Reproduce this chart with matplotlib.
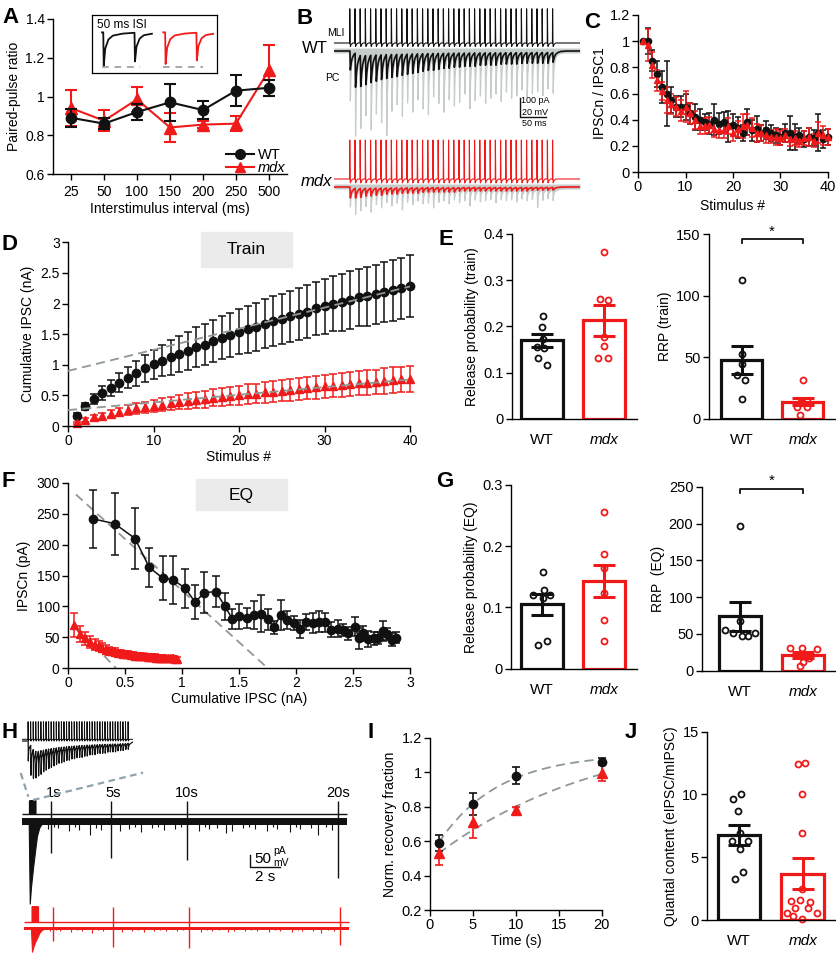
#!/usr/bin/env python3
"""Short-term plasticity at MLI-PC synapses, WT vs mdx (panels A-J)."""
import numpy as np
import matplotlib
matplotlib.use("Agg")
import matplotlib.pyplot as plt
from matplotlib.lines import Line2D
from matplotlib.patches import Rectangle
from matplotlib.ticker import FormatStrFormatter

plt.rcParams["font.family"] = ["Liberation Sans", "DejaVu Sans"]
plt.rcParams["font.size"] = 10

W, H = 837, 956
BLK = "#111111"
RED = "#f01a1a"
FIT = "#8e9897"
TRACE_GRAY = "#c5cdcb"
BOX = "#ebebeb"
ZOOM_LINE = "#8fa3ad"

# ---------------- A: paired-pulse ratio ----------------
ISI_LABELS = ["25", "50", "100", "150", "200", "250", "500"]
PPR_WT = [0.89, 0.86, 0.92, 0.97, 0.93, 1.03, 1.045]
PPR_WT_ERR = [0.045, 0.03, 0.043, 0.095, 0.045, 0.08, 0.04]
PPR_MDX = [0.94, 0.875, 0.985, 0.84, 0.855, 0.86, 1.135]
PPR_MDX_ERR = [0.093, 0.055, 0.065, 0.073, 0.02, 0.04, 0.13]
# inset: 50 ms ISI pairs, normalised amplitudes
INSET_STIM_WT = [18, 68]
INSET_AMP_WT = [1.0, 0.86]
INSET_STIM_MDX = [117, 167]
INSET_AMP_MDX = [0.95, 0.83]

# ---------------- B: example 100 Hz trains ----------------
B_STIM_MS = 10.0 * np.arange(40)
MLI_SPIKE_MV_WT = 36
MLI_SPIKE_MV_MDX = 41
PC_DEPTH_WT = [100, 180, 165, 155, 146, 140, 132, 127, 122, 118, 113, 108, 104, 99, 94, 90,
               90, 85, 80, 80, 75, 75, 71, 71, 71, 66, 66, 66, 66, 61, 61, 61, 61, 57, 57, 57,
               57, 57, 57, 52]
GRAY_PEAK_WT = [263, 431, 379, 316, 395, 305, 358, 421, 289, 263, 326, 252, 305, 237, 289, 316,
                221, 263, 305, 237, 274, 252, 210, 289, 242, 221, 263, 231, 210, 252, 200, 237,
                221, 189, 231, 210, 200, 221, 184, 210]
GRAY_BAND_WT = [132, 237, 210, 200, 189, 179, 174, 168, 158, 147, 137, 132, 126, 121, 116, 110,
                110, 105, 100, 100, 95, 95, 89, 89, 84, 84, 84, 79, 79, 79, 74, 74, 74, 74, 68,
                68, 68, 68, 68, 63]
PC_DEPTH_MDX = [57, 52, 48, 42, 42, 38, 38, 33, 33, 33, 29, 29, 29, 29, 24, 24, 24, 24, 24, 24,
                24, 19, 19, 19, 19, 19, 19, 19, 19, 19, 19, 19, 19, 19, 19, 15, 15, 15, 15, 15]
GRAY_PEAK_MDX = [105, 137, 116, 95, 126, 84, 105, 74, 95, 79, 116, 74, 89, 68, 84, 79, 105, 74,
                 68, 84, 63, 79, 68, 95, 63, 74, 68, 63, 79, 63, 68, 63, 74, 58, 68, 63, 105, 63,
                 58, 68]
GRAY_BAND_MDX = [74, 74, 68, 63, 63, 58, 58, 53, 53, 53, 47, 47, 47, 47, 42, 42, 42, 42, 42, 42,
                 42, 37, 37, 37, 37, 37, 37, 37, 37, 37, 37, 37, 37, 37, 37, 32, 32, 32, 32, 32]

# ---------------- C: normalised IPSC amplitude ----------------
STIM = np.arange(1, 41)
C_WT = [1.0, 1.0, 0.85, 0.75, 0.65, 0.6, 0.55, 0.5, 0.5, 0.5, 0.45, 0.42, 0.4, 0.38, 0.37, 0.4,
        0.37, 0.38, 0.35, 0.36, 0.34, 0.3, 0.38, 0.32, 0.33, 0.3, 0.32, 0.3, 0.28, 0.27, 0.3, 0.3,
        0.27, 0.28, 0.25, 0.27, 0.26, 0.3, 0.25, 0.27]
C_WT_ERR = [0.0, 0.1, 0.08, 0.1, 0.12, 0.25, 0.1, 0.08, 0.08, 0.1, 0.08, 0.1, 0.08, 0.06, 0.08,
            0.12, 0.08, 0.08, 0.12, 0.08, 0.08, 0.06, 0.1, 0.08, 0.1, 0.06, 0.07, 0.06, 0.06, 0.06,
            0.07, 0.13, 0.1, 0.06, 0.06, 0.07, 0.06, 0.14, 0.07, 0.06]
C_MDX = [1.0, 0.97, 0.82, 0.7, 0.62, 0.55, 0.52, 0.5, 0.47, 0.5, 0.45, 0.4, 0.35, 0.35, 0.36,
         0.33, 0.32, 0.32, 0.35, 0.3, 0.33, 0.35, 0.36, 0.34, 0.3, 0.3, 0.28, 0.27, 0.27, 0.26,
         0.28, 0.25, 0.26, 0.24, 0.26, 0.27, 0.24, 0.3, 0.28, 0.27]
C_MDX_ERR = [0.0, 0.12, 0.1, 0.08, 0.07, 0.1, 0.08, 0.07, 0.08, 0.12, 0.08, 0.07, 0.06, 0.06,
             0.06, 0.06, 0.06, 0.06, 0.06, 0.06, 0.06, 0.09, 0.08, 0.07, 0.07, 0.06, 0.06, 0.05,
             0.06, 0.05, 0.05, 0.05, 0.05, 0.05, 0.05, 0.07, 0.05, 0.08, 0.07, 0.06]

# ---------------- D: cumulative IPSC (train method) ----------------
D_WT = [0.17, 0.32, 0.44, 0.54, 0.62, 0.71, 0.79, 0.86, 0.94, 1.01, 1.07, 1.12, 1.18, 1.23, 1.29,
        1.33, 1.39, 1.44, 1.49, 1.54, 1.58, 1.62, 1.67, 1.71, 1.75, 1.79, 1.83, 1.87, 1.92, 1.96,
        2.0, 2.02, 2.06, 2.1, 2.12, 2.15, 2.19, 2.22, 2.25, 2.29]
D_WT_ERR = [0.04, 0.06, 0.08, 0.11, 0.13, 0.15, 0.17, 0.2, 0.22, 0.24, 0.26, 0.28, 0.29, 0.31,
            0.32, 0.33, 0.34, 0.35, 0.36, 0.37, 0.38, 0.39, 0.4, 0.41, 0.41, 0.42, 0.43, 0.43,
            0.44, 0.45, 0.45, 0.46, 0.47, 0.47, 0.48, 0.48, 0.49, 0.5, 0.5, 0.51]
D_MDX = [0.05, 0.1, 0.14, 0.17, 0.2, 0.23, 0.26, 0.29, 0.31, 0.33, 0.35, 0.37, 0.39, 0.41, 0.42,
         0.44, 0.46, 0.47, 0.49, 0.5, 0.52, 0.53, 0.55, 0.56, 0.58, 0.59, 0.61, 0.62, 0.63, 0.65,
         0.66, 0.67, 0.69, 0.7, 0.71, 0.72, 0.74, 0.75, 0.76, 0.77]
D_MDX_ERR = [0.02, 0.03, 0.04, 0.05, 0.06, 0.07, 0.08, 0.09, 0.09, 0.1, 0.11, 0.11, 0.12, 0.13,
             0.13, 0.14, 0.14, 0.15, 0.15, 0.16, 0.16, 0.16, 0.17, 0.17, 0.17, 0.18, 0.18, 0.18,
             0.19, 0.19, 0.19, 0.19, 0.2, 0.2, 0.2, 0.2, 0.21, 0.21, 0.21, 0.21]
D_FIT_WT = (0.9, 0.0345)    # intercept, slope of late-phase fit
D_FIT_MDX = (0.26, 0.0125)

# ---------------- F: EQ (Elmqvist-Quastel) plot ----------------
F_WT_X = [0.217, 0.41, 0.588, 0.713, 0.83, 0.924, 1.03, 1.114, 1.196, 1.295, 1.377, 1.44, 1.5,
          1.573, 1.63, 1.69, 1.75, 1.807, 1.865, 1.92, 1.98, 2.035, 2.09, 2.15, 2.2, 2.25, 2.31,
          2.37, 2.415, 2.46, 2.52, 2.55, 2.59, 2.63, 2.68, 2.72, 2.76, 2.8, 2.84, 2.88]
F_WT_Y = [242, 234, 210, 163, 146, 143, 129, 107, 122, 124, 100, 80, 84, 81, 86, 88, 79, 66, 86,
          78, 73, 63, 74, 73, 75, 74, 62, 64, 62, 56, 67, 48, 56, 47, 48, 49, 60, 55, 46, 49]
F_WT_ERR = [47, 50, 50, 31, 36, 39, 32, 27, 33, 25, 22, 16, 20, 16, 22, 30, 17, 11, 24, 15, 12,
            15, 13, 16, 17, 16, 12, 14, 10, 11, 15, 17, 12, 13, 10, 10, 16, 10, 11, 9]
F_MDX_X = [0.05, 0.105, 0.153, 0.195, 0.233, 0.268, 0.301, 0.331, 0.359, 0.386, 0.412, 0.437,
           0.461, 0.484, 0.506, 0.528, 0.549, 0.570, 0.590, 0.610, 0.630, 0.649, 0.668, 0.687,
           0.705, 0.723, 0.741, 0.759, 0.776, 0.793, 0.810, 0.827, 0.844, 0.860, 0.876, 0.892,
           0.908, 0.924, 0.939, 0.954]
F_MDX_Y = [70, 55, 48, 42, 38, 35, 33, 30, 28, 27, 26, 25, 24, 23, 22, 22, 21, 21, 20, 20, 20,
           19, 19, 19, 18, 18, 18, 18, 17, 17, 17, 17, 17, 16, 16, 16, 16, 16, 15, 15]
F_MDX_ERR = [20, 13, 11, 10, 9, 8, 7, 7, 6, 6, 6, 5, 5, 5, 5, 5, 5, 5, 4, 4, 4, 4, 4, 4, 4, 4, 4,
             4, 4, 4, 4, 4, 3, 3, 3, 3, 3, 3, 3, 3]
F_FIT_WT = (293, -167.4, 0.07, 1.75)   # intercept, slope, x range
F_FIT_MDX = (79.5, -189.0, 0.05, 0.42)

# ---------------- E / G / J: per-cell bar plots ----------------
PR_TRAIN = [[0.223, 0.199, 0.172, 0.155, 0.153, 0.131, 0.117],
            [0.36, 0.26, 0.257, 0.178, 0.158, 0.131, 0.131]]
PR_TRAIN_OFF = [[0.01, 0.0, 0.01, -0.08, 0.03, -0.06, 0.08], [0.0, -0.06, 0.07, 0.0, 0.0, -0.09, 0.07]]
PR_TRAIN_MEAN = [0.17, 0.213]
PR_TRAIN_SEM = [0.014, 0.033]

RRP_TRAIN = [[113, 53, 45, 36, 32, 16], [31.6, 15, 13, 10, 10, 3]]
RRP_TRAIN_OFF = [[0.0, 0.0, 0.0, -0.08, 0.06, 0.0], [0.0, 0.06, -0.05, -0.1, 0.07, -0.05]]
RRP_TRAIN_MEAN = [48, 14]
RRP_TRAIN_SEM = [11.5, 3]

PR_EQ = [[0.158, 0.128, 0.121, 0.121, 0.115, 0.046, 0.038],
         [0.256, 0.188, 0.164, 0.123, 0.079, 0.046]]
PR_EQ_OFF = [[0.01, 0.03, -0.14, 0.13, 0.01, 0.08, -0.06], [0.0, 0.0, 0.0, 0.0, 0.0, 0.0]]
PR_EQ_MEAN = [0.105, 0.143]
PR_EQ_SEM = [0.017, 0.026]

RRP_EQ = [[197, 68, 55, 52, 51, 47, 47], [30.5, 31.4, 29, 22, 18, 12, 6]]
RRP_EQ_OFF = [[0.0, 0.0, -0.245, 0.23, -0.11, 0.13, 0.02], [-0.21, -0.02, 0.22, -0.1, 0.1, 0.0, -0.05]]
RRP_EQ_MEAN = [74, 21]
RRP_EQ_SEM = [20, 4]

QC = [[10.05, 9.6, 8.67, 6.93, 6.27, 6.27, 5.65, 3.79, 3.25],
      [12.45, 12.5, 10.0, 6.93, 2.5, 1.55, 1.6, 1.47, 0.93, 0.93, 0.53, 0.53, 0.32, 0.05]]
QC_OFF = [[0.04, -0.09, -0.01, 0.02, -0.115, 0.146, 0.02, 0.07, -0.06],
          [-0.07, 0.04, -0.02, -0.02, -0.02, -0.18, -0.05, 0.11, -0.125, 0.08, -0.255, 0.22, -0.15, -0.02]]
QC_MEAN = [6.75, 3.7]
QC_SEM = [0.8, 1.2]

# ---------------- H / I: recovery ----------------
H_TEST_S = [1, 5, 10, 20]
H_TEST_WT_PA = [135, 154, 164, 242]
H_TEST_MDX_PA = [55, 78, 85, 72]
H_TRAIN_T = [-0.45, -0.38, -0.3, -0.15, 0.0, 0.1, 0.25, 0.5]
H_TRAIN_WT_PA = [0, 350, 280, 190, 110, 60, 25, 0]
H_TRAIN_MDX_PA = [0, 100, 80, 55, 35, 20, 8, 0]
H_MINI_S = [0.8, 1.2, 1.5, 2.2, 2.6, 2.9, 3.6, 4.0, 4.3, 5.6, 6.2, 6.6, 7.0, 7.7, 8.1, 8.5, 9.2,
            9.6, 10.8, 11.2, 11.5, 12.0, 12.6, 13.0, 13.7, 14.1, 14.5, 15.3, 15.7, 16.0, 16.8,
            17.2, 17.5, 18.2, 18.7, 19.2, 19.6]
H_MINI_WT_PA = [30, 22, 25, 40, 24, 35, 57, 26, 35, 40, 30, 22, 45, 25, 22, 35, 30, 24, 40, 22,
                30, 26, 50, 40, 25, 22, 30, 40, 24, 30, 45, 22, 30, 25, 57, 24, 35]
H_MINI_MDX_PA = [12, 8, 10, 15, 8, 12, 18, 8, 10, 14, 10, 8, 16, 10, 8, 12, 10, 8, 14, 8, 10, 8,
                 16, 12, 10, 8, 10, 14, 8, 10, 15, 8, 10, 10, 18, 8, 12]
H_INSET_DEPTH = [100, 150, 145, 135, 125, 120, 110, 105, 100, 95, 90, 85, 80, 80, 75, 70, 70, 65,
                 65, 60, 60, 60, 55, 55, 50, 50, 50, 45, 45, 45, 45, 40, 40, 40, 40, 35, 35, 35,
                 30, 30]

REC_T = [1, 5, 10, 20]
REC_WT = [0.59, 0.817, 0.98, 1.06]
REC_WT_ERR = [0.048, 0.063, 0.048, 0.02]
REC_MDX = [0.533, 0.71, 0.779, 0.996]
REC_MDX_ERR = [0.07, 0.095, 0.02, 0.05]
REC_FIT_WT = (1.11, 0.6, 7.0)     # A - B * exp(-t / tau)
REC_FIT_MDX = (1.28, 0.79, 20.0)

# trace kernels (time ms, fraction of peak)
PSC_T = [0, 0.7, 1.5, 3, 5, 8, 12, 20]
PSC_F = [0, 1, 0.55, 0.3, 0.18, 0.1, 0.05, 0]
PC_PSC_T = [0, 0.8, 2, 4, 7, 10, 15, 25]
PC_PSC_F = [0, 1, 0.7, 0.4, 0.22, 0.12, 0.05, 0]
SLOW_PSC_T = [0, 0.7, 1.5, 3, 6, 10, 20, 40]
SLOW_PSC_F = [0, 1, 0.6, 0.4, 0.3, 0.22, 0.1, 0]
SPK_T = [0, 0.3, 0.8, 1.5, 3, 6]
SPK_F = [0, 1, 0.05, -0.1, -0.04, 0]
PAIR_T = [0, 0.8, 3, 8, 15, 30, 60]
PAIR_F = [0, 1, 0.5, 0.22, 0.1, 0.04, 0]


def px_axes(fig, x0, y0, x1, y1):
    return fig.add_axes([x0 / W, 1 - y1 / H, (x1 - x0) / W, (y1 - y0) / H])


def ftext(fig, x, y, s, **kw):
    fig.text(x / W, 1 - y / H, s, **kw)


def fline(fig, xs, ys, **kw):
    fig.add_artist(Line2D([x / W for x in xs], [1 - y / H for y in ys],
                          transform=fig.transFigure, **kw))


def summed(t, onsets, amps, kt, kf):
    y = np.zeros_like(t)
    for t0, a in zip(onsets, amps):
        y += a * np.interp(t - t0, kt, kf, left=0, right=0)
    return y


def style(ax, size=10):
    for s in ("top", "right"):
        ax.spines[s].set_visible(False)
    for s in ("left", "bottom"):
        ax.spines[s].set_linewidth(1.0)
    ax.tick_params(direction="out", length=4, width=1, labelsize=size, pad=2)
    ax.yaxis.set_major_formatter(FormatStrFormatter("%g"))


def noclip(container):
    for art in container.get_children():
        art.set_clip_on(False)


def bar_panel(ax, means, sems, pts, offs, xlim, ylim, yticks, ylabel):
    cols = (BLK, RED)
    ax.bar([0, 1], means, width=0.67, color="white", edgecolor=cols, linewidth=2.3, zorder=1)
    for i in range(2):
        ax.plot(i + np.asarray(offs[i]), pts[i], "o", mfc="none", mec=cols[i], ms=4.3, mew=1.3,
                zorder=2, clip_on=False)
        ax.errorbar(i, means[i], yerr=sems[i], color=cols[i], capsize=8, elinewidth=2.2,
                    capthick=2.2, zorder=3)
    style(ax, 10.5)
    ax.set_xlim(*xlim)
    ax.set_ylim(*ylim)
    ax.set_yticks(yticks)
    ax.set_xticks([0, 1])
    ax.set_xticklabels(["WT", "mdx"], fontsize=11)
    ax.get_xticklabels()[1].set_fontstyle("italic")
    ax.tick_params(axis="x", length=0, pad=10)
    ax.set_ylabel(ylabel, fontsize=10, labelpad=3)


def sig_bracket(ax, y, drop, star_y):
    ax.plot([0, 0, 1, 1], [y - drop, y, y, y - drop], color=BLK, lw=1.3, clip_on=False)
    ax.text(0.5, star_y, "*", ha="center", va="center", fontsize=11)


def main():
    fig = plt.figure(figsize=(W / 100, H / 100), dpi=100)

    # ---- panel letters
    for lab, x, y in (("A", 2, 23), ("B", 297, 24), ("C", 584, 28), ("D", 2, 250), ("E", 438, 245),
                      ("F", 2, 487), ("G", 436, 487), ("H", 2, 738), ("I", 368, 738), ("J", 625, 738)):
        ftext(fig, x, y, lab, fontsize=16, fontweight="bold", va="baseline", ha="left")

    # ---- A
    ax = px_axes(fig, 53, 19, 287, 174)
    xa = np.arange(len(ISI_LABELS))
    ax.errorbar(xa, PPR_WT, yerr=PPR_WT_ERR, fmt="-o", color=BLK, ms=7.5, lw=1.5,
                elinewidth=1.5, capsize=4, capthick=1.5, zorder=3)
    ax.errorbar(xa, PPR_MDX, yerr=PPR_MDX_ERR, fmt="-^", color=RED, ms=8, lw=1.5,
                elinewidth=1.5, capsize=4, capthick=1.5, zorder=2)
    style(ax)
    ax.tick_params(axis="x", pad=4)
    ax.set_xlim(-0.55, 6.55)
    ax.set_ylim(0.6, 1.4)
    ax.set_yticks([0.6, 0.8, 1.0, 1.2, 1.4])
    ax.set_xticks(xa)
    ax.set_xticklabels(ISI_LABELS)
    ax.set_ylabel("Paired-pulse ratio", labelpad=3)
    ax.set_xlabel("Interstimulus interval (ms)", labelpad=2)
    handles = [Line2D([], [], color=BLK, marker="o", ms=7, lw=1.5),
               Line2D([], [], color=RED, marker="^", ms=7.5, lw=1.5)]
    leg = ax.legend(handles, ["WT", "mdx"], loc="lower right", bbox_to_anchor=(1.03, -0.06),
                    frameon=False, handlelength=1.9, handletextpad=0.25, labelspacing=-0.1,
                    handleheight=0.6, fontsize=10.5, borderaxespad=0.2)
    leg.get_texts()[1].set_fontstyle("italic")

    ins = px_axes(fig, 92, 15, 217, 73)
    ins.set_xticks([])
    ins.set_yticks([])
    for s in ins.spines.values():
        s.set_linewidth(0.9)
    ins.set_xlim(0, 200)
    ins.set_ylim(-1.22, 0.52)
    for stim, amp, col, (t0, t1), (d0, d1) in (
            (INSET_STIM_WT, INSET_AMP_WT, BLK, (16, 96), (16, 77)),
            (INSET_STIM_MDX, INSET_AMP_MDX, RED, (114, 194), (114, 178))):
        tt = np.arange(t0, t1, 0.1)
        ins.plot(tt, -summed(tt, stim, amp, PAIR_T, PAIR_F), color=col, lw=1.3)
        ins.plot([d0, d1], [-1.03, -1.03], color="#999999", lw=1.2, ls=(0, (4, 3.5)))
    ins.text(0.04, 0.83, "50 ms ISI", transform=ins.transAxes, fontsize=8.5, va="center")

    # ---- B
    axb = px_axes(fig, 334, 0, 580, 225)
    axb.axis("off")
    axb.set_xlim(-30, 443)
    axb.set_ylim(-225, 0)
    pa_px = 100 / 19
    mv_px = 20 / 19
    tb = np.arange(-30, 443, 0.1)
    for base_mli, base_pc, spk, depth, gpeak, gband, col in (
            (43, 51, MLI_SPIKE_MV_WT, PC_DEPTH_WT, GRAY_PEAK_WT, GRAY_BAND_WT, BLK),
            (179, 187, MLI_SPIKE_MV_MDX, PC_DEPTH_MDX, GRAY_PEAK_MDX, GRAY_BAND_MDX, RED)):
        band = summed(tb, B_STIM_MS + 0.5, np.asarray(gband) / pa_px, PC_PSC_T, PC_PSC_F)
        axb.fill_between(tb, -base_pc + 3, -base_pc - 2 - band, color=TRACE_GRAY, lw=0)
        peaks = summed(tb, B_STIM_MS + 0.8, np.asarray(gpeak) / pa_px, PSC_T, PSC_F)
        axb.plot(tb, -base_pc - peaks, color=TRACE_GRAY, lw=0.9)
        pc = summed(tb, B_STIM_MS + 0.6, np.asarray(depth) / pa_px, PC_PSC_T, PC_PSC_F)
        axb.plot(tb, -base_pc - pc, color=col, lw=1.2)
        mli = summed(tb, B_STIM_MS, np.full(40, spk / mv_px), SPK_T, SPK_F)
        axb.plot(tb, -base_mli + mli, color=col, lw=0.8)
    ftext(fig, 327, 33, "MLI", fontsize=7.5, va="center")
    ftext(fig, 325, 78, "PC", fontsize=7.5, va="center")
    ftext(fig, 315, 48.5, "WT", fontsize=12, va="center", ha="center")
    ftext(fig, 316, 182, "mdx", fontsize=12, va="center", ha="center", style="italic")
    fline(fig, [520, 520, 545.5], [98, 117, 117], color=BLK, lw=1.0)
    ftext(fig, 521.5, 100.5, "100 pA", fontsize=6.5, va="center")
    ftext(fig, 522, 112.5, "20 mV", fontsize=6.5, va="center")
    ftext(fig, 522, 123.5, "50 ms", fontsize=6.5, va="center")

    # ---- C
    ax = px_axes(fig, 638, 15, 828, 172)
    noclip(ax.errorbar(STIM, C_WT, yerr=C_WT_ERR, fmt="o", color=BLK, ms=4.5, elinewidth=1.1,
                       capsize=2.2, capthick=1.1))
    noclip(ax.errorbar(STIM, C_MDX, yerr=C_MDX_ERR, fmt="^", color=RED, ms=5, elinewidth=1.1,
                       capsize=2.2, capthick=1.1))
    style(ax, 10.5)
    ax.set_xlim(0, 40)
    ax.set_ylim(0, 1.2)
    ax.set_xticks([0, 10, 20, 30, 40])
    ax.set_yticks(np.arange(0, 1.21, 0.2))
    ax.set_ylabel("IPSCn / IPSC1", labelpad=2)
    ax.set_xlabel("Stimulus #", labelpad=3)

    # ---- D
    ax = px_axes(fig, 68, 242.4, 410, 426)
    noclip(ax.errorbar(STIM, D_WT, yerr=D_WT_ERR, fmt="o", color=BLK, ms=6, elinewidth=1.1,
                       capsize=2.8, capthick=1.1))
    noclip(ax.errorbar(STIM, D_MDX, yerr=D_MDX_ERR, fmt="^", color=RED, ms=6, elinewidth=1.1,
                       capsize=2.8, capthick=1.1))
    xf = np.array([0, 40])
    for b0, b1 in (D_FIT_WT, D_FIT_MDX):
        ax.plot(xf, b0 + b1 * xf, color=FIT, lw=1.3, ls=(0, (5, 3)), zorder=4)
    style(ax, 10)
    ax.set_xlim(0, 40)
    ax.set_ylim(0, 3)
    ax.set_xticks([0, 10, 20, 30, 40])
    ax.set_yticks(np.arange(0, 3.01, 0.5))
    ax.set_ylabel("Cumulative IPSC (nA)", labelpad=4)
    ax.set_xlabel("Stimulus #", labelpad=1)
    fig.patches.append(Rectangle((201 / W, 1 - 267 / H), 91 / W, 35 / H, transform=fig.transFigure,
                                 color=BOX, zorder=0))
    ftext(fig, 246.5, 249.5, "Train", fontsize=12.5, ha="center", va="center")

    # ---- F
    ax = px_axes(fig, 68, 483, 410, 668)
    for b0, b1, x0, x1 in (F_FIT_WT, F_FIT_MDX):
        xs = np.array([x0, x1])
        ax.plot(xs, b0 + b1 * xs, color=FIT, lw=1.3, ls=(0, (5, 3)), zorder=1)
    noclip(ax.errorbar(F_WT_X, F_WT_Y, yerr=F_WT_ERR, fmt="-o", color=BLK, ms=6, lw=1.1,
                       elinewidth=1.1, capsize=2.8, capthick=1.1))
    noclip(ax.errorbar(F_MDX_X, F_MDX_Y, yerr=F_MDX_ERR, fmt="-^", color=RED, ms=5.5, lw=1.1,
                       elinewidth=1.1, capsize=2.8, capthick=1.1))
    style(ax, 10)
    ax.set_xlim(0, 3)
    ax.set_ylim(0, 300)
    ax.set_xticks(np.arange(0, 3.01, 0.5))
    ax.set_yticks(np.arange(0, 301, 50))
    ax.xaxis.set_major_formatter(FormatStrFormatter("%g"))
    ax.set_ylabel("IPSCn (pA)", labelpad=4)
    ax.set_xlabel("Cumulative IPSC (nA)", labelpad=1)
    fig.patches.append(Rectangle((196 / W, 1 - 510 / H), 91 / W, 31 / H, transform=fig.transFigure,
                                 color=BOX, zorder=0))
    ftext(fig, 241.5, 495, "EQ", fontsize=12.5, ha="center", va="center")

    # ---- E
    ax = px_axes(fig, 512, 233.8, 637, 419)
    bar_panel(ax, PR_TRAIN_MEAN, PR_TRAIN_SEM, PR_TRAIN, PR_TRAIN_OFF, (-0.484, 1.532), (0, 0.4),
              [0, 0.1, 0.2, 0.3, 0.4], "Release probability (train)")
    ax = px_axes(fig, 709, 234.3, 836, 419)
    bar_panel(ax, RRP_TRAIN_MEAN, RRP_TRAIN_SEM, RRP_TRAIN, RRP_TRAIN_OFF, (-0.53, 1.54), (0, 150),
              [0, 50, 100, 150], "RRP (train)")
    sig_bracket(ax, 146, 3, 152)

    # ---- G
    ax = px_axes(fig, 510.7, 485, 637, 668.7)
    bar_panel(ax, PR_EQ_MEAN, PR_EQ_SEM, PR_EQ, PR_EQ_OFF, (-0.505, 1.53), (0, 0.3),
              [0, 0.1, 0.2, 0.3], "Release probability (EQ)")
    ax = px_axes(fig, 701.7, 486.7, 836, 670.8)
    bar_panel(ax, RRP_EQ_MEAN, RRP_EQ_SEM, RRP_EQ, RRP_EQ_OFF, (-0.616, 1.53), (0, 250),
              [0, 50, 100, 150, 200, 250], "RRP  (EQ)")
    sig_bracket(ax, 247, 6, 258)

    # ---- J
    ax = px_axes(fig, 707, 731.7, 836, 920)
    bar_panel(ax, QC_MEAN, QC_SEM, QC, QC_OFF, (-0.5, 1.52), (0, 15), [0, 5, 10, 15],
              "Quantal content (eIPSC/mIPSC)")

    # ---- I
    ax = px_axes(fig, 430, 737.7, 601.7, 910)
    tf = np.linspace(1, 20, 100)
    for a, b, tau in (REC_FIT_WT, REC_FIT_MDX):
        ax.plot(tf, a - b * np.exp(-tf / tau), color=FIT, lw=1.3, ls=(0, (5, 3)), zorder=1)
    noclip(ax.errorbar(REC_T, REC_WT, yerr=REC_WT_ERR, fmt="o", color=BLK, ms=6, elinewidth=1.2,
                       capsize=3, capthick=1.2))
    noclip(ax.errorbar(REC_T, REC_MDX, yerr=REC_MDX_ERR, fmt="^", color=RED, ms=6.5,
                       elinewidth=1.2, capsize=3, capthick=1.2))
    style(ax, 10.5)
    ax.set_xlim(0, 20)
    ax.set_ylim(0.2, 1.2)
    ax.set_xticks([0, 5, 10, 15, 20])
    ax.set_yticks([0.2, 0.4, 0.6, 0.8, 1.0, 1.2])
    ax.set_ylabel("Norm. recovery fraction", labelpad=3)
    ax.set_xlabel("Time (s)", labelpad=1)

    # ---- H inset (train)
    axi = px_axes(fig, 22, 715, 133, 790)
    axi.axis("off")
    axi.set_xlim(-23.4, 409.5)
    axi.set_ylim(-75, 0)
    ti = np.arange(-23, 409, 0.1)
    axi.plot(ti, -24.3 + summed(ti, B_STIM_MS, np.full(40, 17.6), SPK_T, SPK_F), color=BLK, lw=0.7)
    axi.plot(ti, -26 - summed(ti, B_STIM_MS + 0.6, np.asarray(H_INSET_DEPTH) / 5, SLOW_PSC_T,
                              SLOW_PSC_F), color=BLK, lw=0.9)
    fline(fig, [20.7, 28.3], [773, 796.7], color=ZOOM_LINE, lw=1.6, ls=(0, (3, 2)))
    fline(fig, [33, 143], [800, 772.7], color=ZOOM_LINE, lw=1.6, ls=(0, (3, 2)))

    # ---- H main trace
    axh = px_axes(fig, 20, 790, 350, 956)
    axh.axis("off")
    axh.set_xlim(-1.025, 20.8)
    axh.set_ylim(-166, 0)
    k = 50 / 11.7
    train_s = B_STIM_MS / 1000 - 0.4
    for shift, mli, pc, spk, test, trn, minis, noise, col in (
            (0.0, -24.3, -31.7, 62, H_TEST_WT_PA, H_TRAIN_WT_PA, H_MINI_WT_PA, 16, BLK),
            (0.15, -132.3, -138.3, 70, H_TEST_MDX_PA, H_TRAIN_MDX_PA, H_MINI_MDX_PA, 7, RED)):
        axh.hlines(mli, -0.9 + shift, 20.6 + shift, color=col, lw=1.0)
        axh.vlines(train_s + shift, mli, mli + spk / k, color=col, lw=0.9)
        axh.fill_between([-0.9 + shift, 20.6 + shift], pc - noise / k, pc + noise / k, color=col, lw=0)
        axh.vlines(np.asarray(H_MINI_S) + shift, pc, pc - np.asarray(minis) / k, color=col, lw=0.8)
        axh.fill_between(np.asarray(H_TRAIN_T) + shift, pc, pc - np.asarray(trn) / k, color=col, lw=0.8)
        axh.vlines(np.asarray(H_TEST_S) + shift, pc - np.asarray(test) / k, mli + spk / k * 0.93,
                   color=col, lw=1.0)
    for s, xs in zip(("1s", "5s", "10s", "20s"), (1.18, 5.15, 10.0, 20.0)):
        axh.text(xs, -3.3, s, ha="center", va="center", fontsize=10.5)
    fline(fig, [250, 250, 280], [855, 866.7, 866.7], color=BLK, lw=1.0)
    ftext(fig, 254, 859, "50", fontsize=11, va="center")
    ftext(fig, 273, 851, "pA", fontsize=7.5, va="center")
    ftext(fig, 273, 862.5, "mV", fontsize=7.5, va="center")
    ftext(fig, 265, 877, "2 s", fontsize=11, va="center", ha="center")

    fig.savefig("out.png", dpi=100, facecolor="white")
    plt.close(fig)


if __name__ == "__main__":
    main()
